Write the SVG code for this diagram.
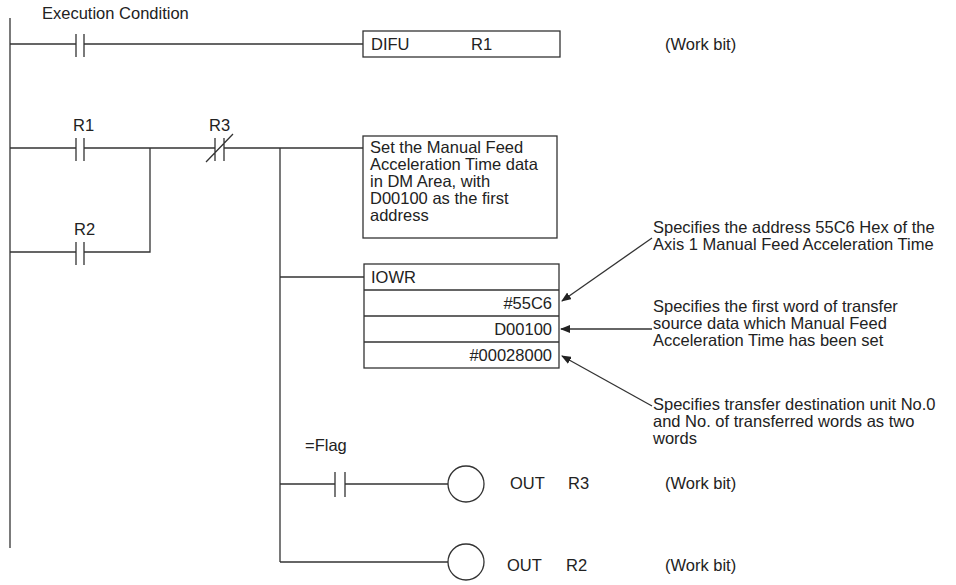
<svg xmlns="http://www.w3.org/2000/svg" width="956" height="585" viewBox="0 0 956 585">
<style>
text{font-family:"Liberation Sans",Arial,sans-serif;font-size:16.5px;fill:#222}
.l{stroke:#333;stroke-width:1.3;fill:none}
.b{stroke:#333;stroke-width:1.3;fill:#fff}
.r{text-anchor:end}
</style>
<defs><marker id="a" markerWidth="10" markerHeight="8" refX="9" refY="4" orient="auto" markerUnits="userSpaceOnUse"><path d="M0,0L10,4L0,8z" fill="#222"/></marker></defs>
<rect width="956" height="585" fill="#fff"/>
<g id="connectors" class="l">
<path d="M10,18V548"/>
<path d="M10,44H76M84,44H363"/>
<path d="M76,34V57M84,34V57"/>
<path d="M10,148H76M84,148H215M224,148H363M76,138V161M84,138V161"/>
<path d="M10,252H76M84,252H150V148M76,242V265M84,242V265"/>
<path d="M215,138V161M224,138V161M206,162L233,134"/>
<path d="M280,148V562M280,277H364"/>
<path d="M280,484H335M345,484H448M335,472V497M345,472V497"/>
<path d="M280,562H448"/>
<path d="M652,238L562,301" marker-end="url(#a)"/>
<path d="M652,329L561,329" marker-end="url(#a)"/>
<path d="M652,406L562,356" marker-end="url(#a)"/>
</g>
<g id="execcond"><text x="42" y="19">Execution Condition</text></g>
<g id="r1"><text x="73" y="131">R1</text></g>
<g id="r2"><text x="74" y="235">R2</text></g>
<g id="r3"><text x="209" y="131">R3</text></g>
<g id="difu"><rect class="b" x="363" y="31" width="197" height="26"/><text x="371" y="50">DIFU</text><text x="471" y="50">R1</text><text x="665" y="50">(Work bit)</text></g>
<g id="setbox"><rect class="b" x="363" y="136" width="194" height="102"/>
<text x="370" y="153">Set the Manual Feed</text><text x="370" y="170">Acceleration Time data</text><text x="370" y="187">in DM Area, with</text><text x="370" y="204">D00100 as the first</text><text x="370" y="221">address</text></g>
<g id="iowr"><rect class="b" x="364" y="264" width="195" height="104"/><path class="l" d="M364,290H559M364,316H559M364,342H559"/>
<text x="371" y="283">IOWR</text><text class="r" x="552" y="309">#55C6</text><text class="r" x="552" y="335">D00100</text><text class="r" x="552" y="361">#00028000</text></g>
<g id="ann1"><text x="653" y="233">Specifies the address 55C6 Hex of the</text><text x="653" y="250">Axis 1 Manual Feed Acceleration Time</text></g>
<g id="ann2"><text x="653" y="312">Specifies the first word of transfer</text><text x="653" y="329">source data which Manual Feed</text><text x="653" y="346">Acceleration Time has been set</text></g>
<g id="ann3"><text x="653" y="410">Specifies transfer destination unit No.0</text><text x="653" y="427">and No. of transferred words as two</text><text x="653" y="444">words</text></g>
<g id="flag"><text x="305" y="451">=Flag</text></g>
<g id="out3"><circle class="b" cx="466" cy="484" r="18"/><text x="510" y="489">OUT</text><text x="568" y="489">R3</text><text x="665" y="489">(Work bit)</text></g>
<g id="out2"><circle class="b" cx="466" cy="562" r="18"/><text x="507" y="571">OUT</text><text x="566" y="571">R2</text><text x="665" y="571">(Work bit)</text></g>
</svg>
